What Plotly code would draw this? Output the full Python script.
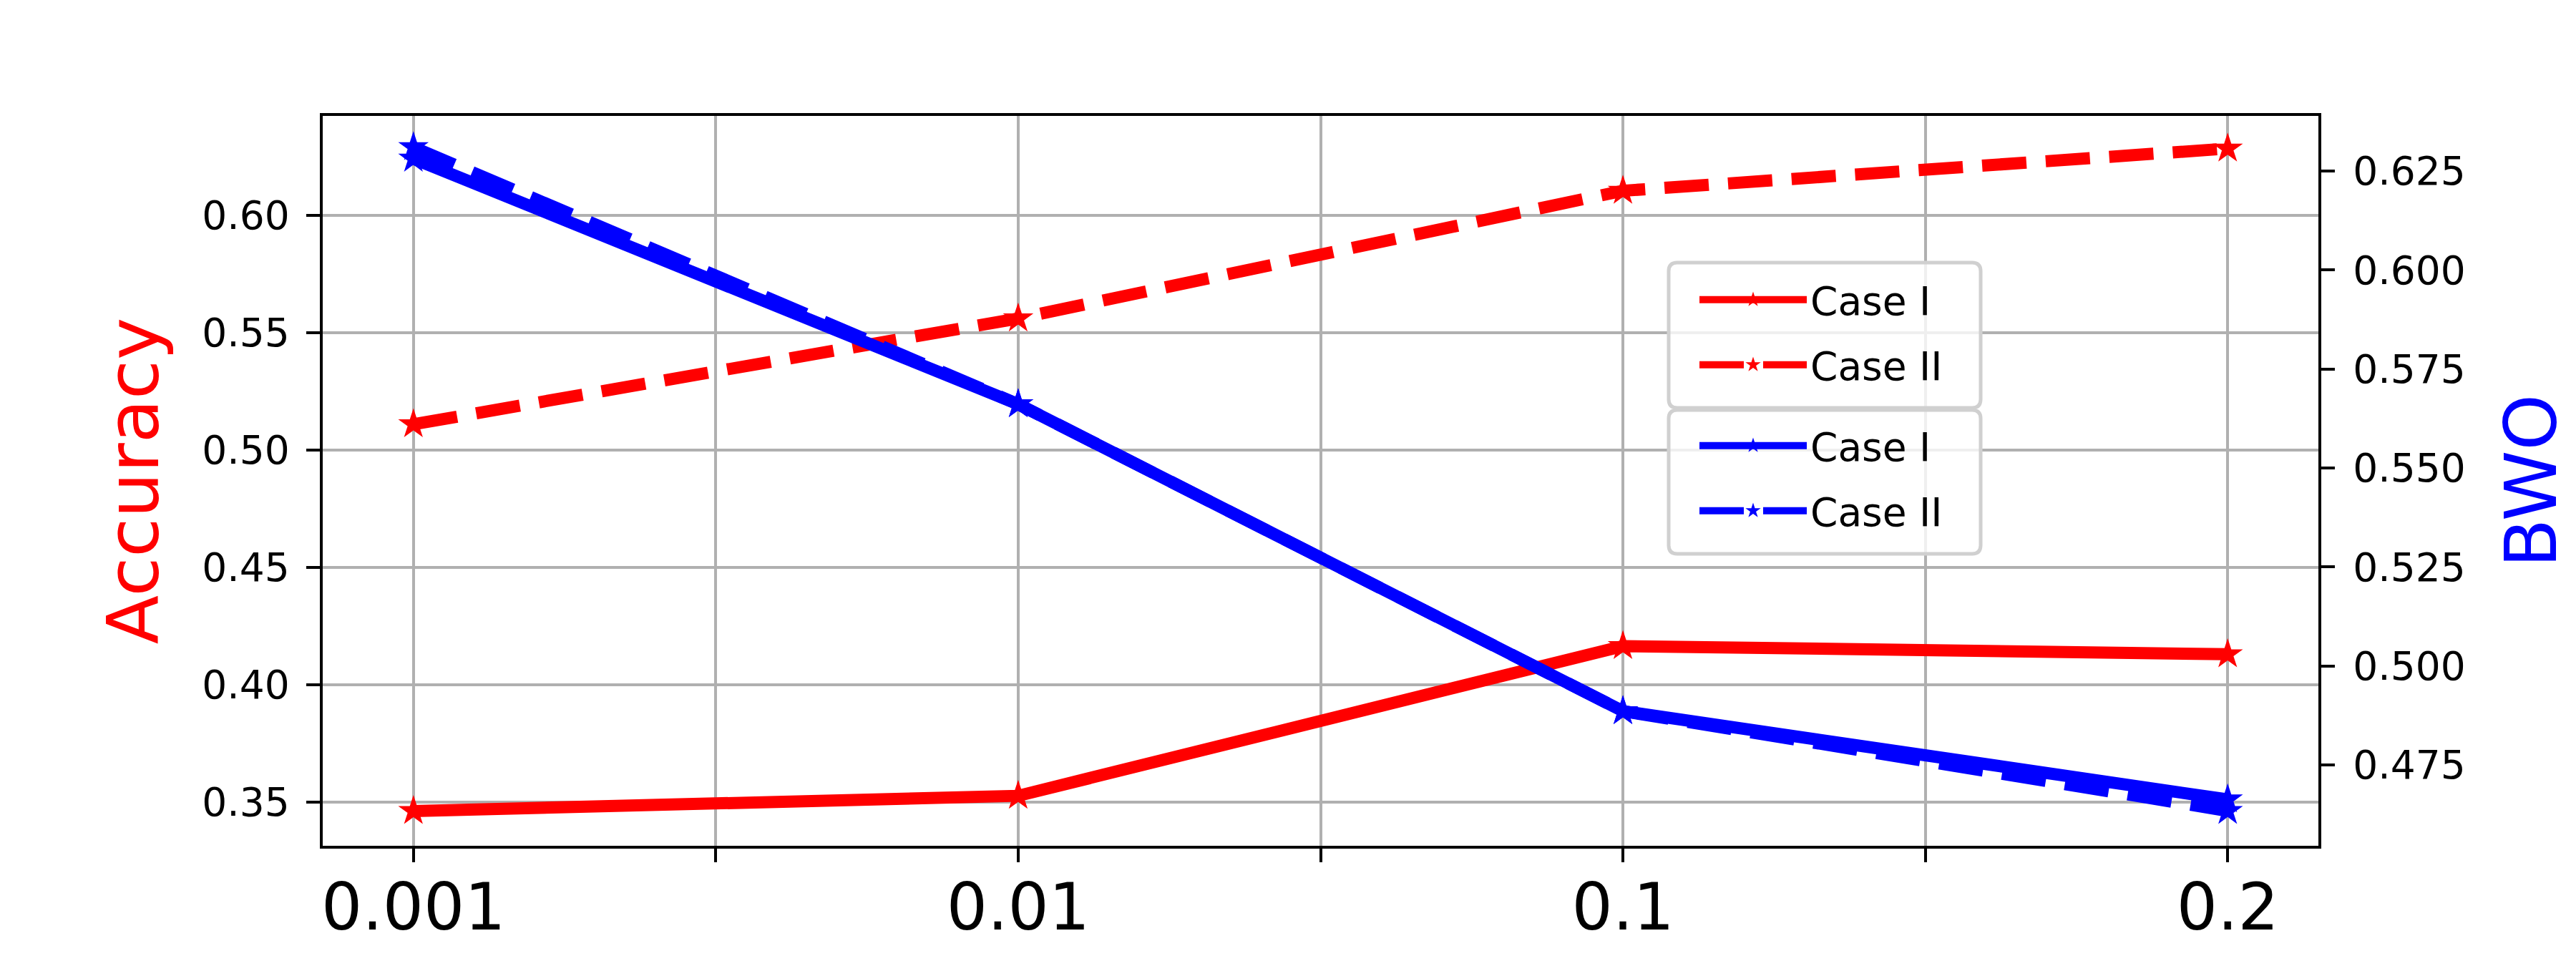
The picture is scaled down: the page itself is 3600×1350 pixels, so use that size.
import plotly.graph_objects as go

# ---- data ----
x_labels = ["0.001", "0.01", "0.1", "0.2"]
acc_case1 = [0.3462, 0.3527, 0.4165, 0.4130]
acc_case2 = [0.5110, 0.5561, 0.6105, 0.6285]
bwo_case1 = [0.6281, 0.5661, 0.4886, 0.4663]
bwo_case2 = [0.6310, 0.5661, 0.4886, 0.4634]
series_names = ["Case I", "Case II"]

x_pos = list(range(len(x_labels)))

# ---- layout geometry (pixels) ----
W, H = 3600, 1350
L, R, T, B = 451, 3240, 162, 1182
PW, PH = R - L, B - T


def px_x(x):
    return (x - L) / PW


def px_y(y):
    return (B - y) / PH


RED = "#ff0000"
BLUE = "#0000ff"
LW = 17
MS = 32
DASH = "62px,27px"

fig = go.Figure()

specs = [
    (acc_case1, RED, "solid", "y", "legend", series_names[0]),
    (acc_case2, RED, DASH, "y", "legend2", series_names[1]),
    (bwo_case1, BLUE, "solid", "y2", "legend3", series_names[0]),
    (bwo_case2, BLUE, DASH, "y2", "legend4", series_names[1]),
]
for vals, col, dash, yax, leg, name in specs:
    fig.add_trace(go.Scatter(
        x=x_pos, y=vals, name=name, mode="lines+markers",
        line=dict(color=col, width=LW, dash=dash),
        marker=dict(symbol="star", size=MS, color=col, line=dict(width=0)),
        yaxis=yax, legend=leg,
    ))

# tick values for x: majors at data positions, minors between them (no label)
x_tickvals = []
x_ticktext = []
for i, lab in enumerate(x_labels):
    x_tickvals.append(i)
    x_ticktext.append(lab)
    if i < len(x_labels) - 1:
        x_tickvals.append(i + 0.5)
        x_ticktext.append("")

acc_ticks = [0.35, 0.40, 0.45, 0.50, 0.55, 0.60]
bwo_ticks = [0.475, 0.500, 0.525, 0.550, 0.575, 0.600, 0.625]

axis_common = dict(
    showline=True, linecolor="black", linewidth=4.4,
    ticks="outside", ticklen=19, tickwidth=4.4, tickcolor="black",
    zeroline=False,
)

fig.update_layout(
    width=W, height=H,
    margin=dict(l=L, r=W - R, t=T, b=H - B),
    paper_bgcolor="white", plot_bgcolor="white",
    font=dict(family="DejaVu Sans", color="black"),
    xaxis=dict(
        range=[-0.15, 3.15], tickvals=x_tickvals, ticktext=x_ticktext,
        tickfont=dict(size=90), showgrid=True, gridcolor="#b0b0b0",
        gridwidth=4.4, mirror=True, ticklabelstandoff=-14, **axis_common,
    ),
    yaxis=dict(
        range=[0.3314, 0.6424], tickvals=acc_ticks, tickformat=".2f",
        tickfont=dict(size=55), showgrid=True, gridcolor="#b0b0b0",
        gridwidth=4.4, mirror=True, ticklabelstandoff=12,
        title=dict(text="Accuracy", font=dict(size=100, color=RED), standoff=28),
        **axis_common,
    ),
    yaxis2=dict(
        overlaying="y", side="right",
        range=[0.4546, 0.6389], tickvals=bwo_ticks, tickformat=".3f",
        tickfont=dict(size=55), showgrid=False, ticklabelstandoff=14,
        title=dict(text="BWO", font=dict(size=100, color=BLUE), standoff=58),
        **axis_common,
    ),
    showlegend=True,
)

# legends: one per entry, placed inside two framed boxes
leg_left_px = 2370
entry_y = [419, 510, 623, 714]
for name, yy in zip(["legend", "legend2", "legend3", "legend4"], entry_y):
    fig.update_layout({name: dict(
        x=px_x(leg_left_px), y=px_y(yy), xanchor="left", yanchor="middle",
        xref="paper", yref="paper",
        bgcolor="rgba(0,0,0,0)", borderwidth=0,
        font=dict(size=55, color="black"), itemwidth=150,
    )})


def rounded_box(x0, y0, x1, y1, r):
    rx = r / PW
    ry = r / PH
    X0, X1 = px_x(x0), px_x(x1)
    Y0, Y1 = px_y(y0), px_y(y1)  # Y0 top (larger), Y1 bottom
    return (f"M {X0+rx},{Y0} L {X1-rx},{Y0} Q {X1},{Y0} {X1},{Y0-ry} "
            f"L {X1},{Y1+ry} Q {X1},{Y1} {X1-rx},{Y1} "
            f"L {X0+rx},{Y1} Q {X0},{Y1} {X0},{Y1+ry} "
            f"L {X0},{Y0-ry} Q {X0},{Y0} {X0+rx},{Y0} Z")


for (y0, y1) in [(367, 570), (573, 774)]:
    fig.add_shape(
        type="path", path=rounded_box(2332, y0, 2768, y1, 12),
        xref="paper", yref="paper", layer="above",
        line=dict(color="#d0d0d0", width=5),
        fillcolor="rgba(255,255,255,0.8)",
    )

fig.write_html("out.html")
